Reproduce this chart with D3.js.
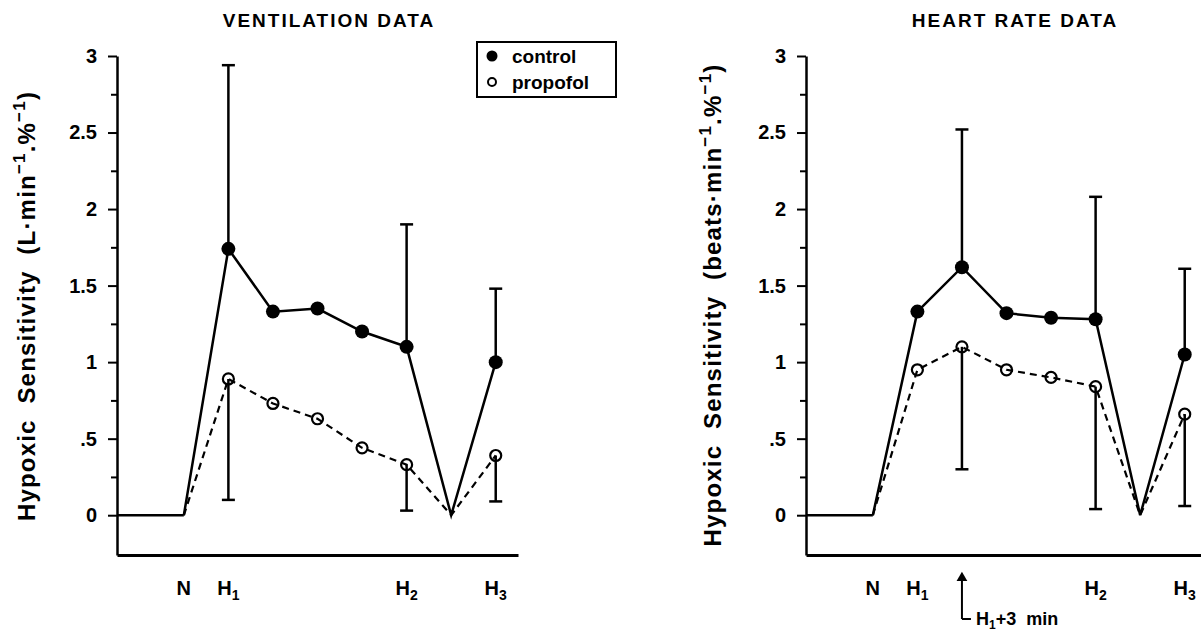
<!DOCTYPE html>
<html>
<head>
<meta charset="utf-8">
<script src="https://cdn.jsdelivr.net/npm/d3@7"></script>
<style>
  body { margin: 0; background: #fff; }
  svg { display: block; font-family: "Liberation Sans", Arial, sans-serif; font-weight: bold; }
</style>
</head>
<body>
<svg id="chart" width="1201" height="635"></svg>
<script>
// x positions: N, H1, H1+3, ..., H2, recovery (dip), H3
const positions = [0, 1, 2, 3, 4, 5, 6, 7];
const markerIdx = [1, 2, 3, 4, 5, 7];

const ventControl = [0, 1.74, 1.33, 1.35, 1.20, 1.10, 0, 1.00];
const ventPropofol = [0, 0.89, 0.73, 0.63, 0.44, 0.33, 0, 0.39];
const ventErrIdx = [1, 5, 7];
const ventControlUpper = [2.94, 1.90, 1.48];
const ventPropofolLower = [0.10, 0.03, 0.09];

const hrControl = [0, 1.33, 1.62, 1.32, 1.29, 1.28, 0, 1.05];
const hrPropofol = [0, 0.95, 1.10, 0.95, 0.90, 0.84, 0, 0.66];
const hrErrIdx = [2, 5, 7];
const hrControlUpper = [2.52, 2.08, 1.61];
const hrPropofolLower = [0.30, 0.04, 0.06];

const majorTicks = [0, 0.5, 1, 1.5, 2, 2.5, 3];
const minorTicks = [0.25, 0.75, 1.25, 1.75, 2.25, 2.75];
const xLabels = [{pos: 0, main: "N", sub: ""}, {pos: 1, main: "H", sub: "1"},
                 {pos: 5, main: "H", sub: "2"}, {pos: 7, main: "H", sub: "3"}];
const seriesNames = ["control", "propofol"];

const svg = d3.select("#chart");

const y = d3.scaleLinear().domain([-0.26, 3]).range([555, 56]);
const fmt = d => d === 0 ? "0" : (d < 1 ? ".5" : String(d));

function panel(opt) {
  const x = d3.scaleLinear().domain([-1.5, 7.5]).range([opt.left, opt.left + 401]);
  const g = svg.append("g");

  // title
  g.append("text")
    .attr("x", opt.titleX).attr("y", 27)
    .attr("text-anchor", "middle")
    .attr("font-size", 19).attr("letter-spacing", 2)
    .text(opt.title);

  // y axis, major and minor ticks
  const ya = g.append("g").attr("transform", `translate(${opt.left},0)`)
    .call(d3.axisLeft(y).tickValues(majorTicks).tickSize(9).tickSizeOuter(0).tickFormat(fmt));
  ya.select(".domain").attr("stroke-width", 2.5);
  ya.selectAll(".tick line").attr("stroke-width", 2);
  ya.selectAll(".tick text").attr("font-size", 20).attr("font-weight", "bold")
    .attr("font-family", "Liberation Sans, Arial, sans-serif").attr("x", -20);
  const ym = g.append("g").attr("transform", `translate(${opt.left},0)`)
    .call(d3.axisLeft(y).tickValues(minorTicks).tickSize(6).tickSizeOuter(0).tickFormat(""));
  ym.select(".domain").remove();
  ym.selectAll(".tick line").attr("stroke-width", 2);

  // x axis, line only
  const xa = g.append("g").attr("transform", `translate(0,${y.range()[0]})`)
    .call(d3.axisBottom(x).tickValues([]).tickSizeOuter(0));
  xa.select(".domain").attr("stroke-width", 3);

  // x labels
  const xl = g.selectAll(".xl").data(xLabels).enter().append("text")
    .attr("x", d => x(d.pos)).attr("y", 595)
    .attr("text-anchor", "middle").attr("font-size", 20);
  xl.append("tspan").text(d => d.main);
  xl.append("tspan").attr("dy", 5).attr("font-size", 14).text(d => d.sub);

  // y axis title
  const yt = g.append("text")
    .attr("transform", `translate(${opt.yTitleX},${opt.yTitleY}) rotate(-90)`)
    .attr("text-anchor", "middle").attr("font-size", 24).attr("letter-spacing", 1.2)
    .style("white-space", "pre");
  yt.append("tspan").text(`Hypoxic  Sensitivity  (${opt.unit}·min`);
  yt.append("tspan").attr("dy", -10).attr("font-size", 17).text("−1");
  yt.append("tspan").attr("dy", 10).text(".%");
  yt.append("tspan").attr("dy", -10).attr("font-size", 17).text("−1");
  yt.append("tspan").attr("dy", 10).text(")");

  // baseline segment before N
  g.append("line")
    .attr("x1", x(-1.5)).attr("x2", x(positions[0]))
    .attr("y1", y(0)).attr("y2", y(0))
    .attr("stroke", "#000").attr("stroke-width", 2.5);

  // error bars: control upward, propofol downward
  const cap = 6.5;
  const errs = opt.errIdx.map((i, k) => ({i, cu: opt.control[i], up: opt.cUpper[k], pm: opt.propofol[i], lo: opt.pLower[k]}));
  const eb = g.selectAll(".eb").data(errs).enter().append("g").attr("stroke", "#000").attr("stroke-width", 2.5);
  eb.append("line").attr("x1", d => x(positions[d.i])).attr("x2", d => x(positions[d.i]))
    .attr("y1", d => y(d.cu)).attr("y2", d => y(d.up));
  eb.append("line").attr("x1", d => x(positions[d.i]) - cap).attr("x2", d => x(positions[d.i]) + cap)
    .attr("y1", d => y(d.up)).attr("y2", d => y(d.up));
  eb.append("line").attr("x1", d => x(positions[d.i])).attr("x2", d => x(positions[d.i]))
    .attr("y1", d => y(d.pm)).attr("y2", d => y(d.lo));
  eb.append("line").attr("x1", d => x(positions[d.i]) - cap).attr("x2", d => x(positions[d.i]) + cap)
    .attr("y1", d => y(d.lo)).attr("y2", d => y(d.lo));

  const line = d3.line().x((d, i) => x(positions[i])).y(d => y(d));

  // control
  g.append("path").datum(opt.control).attr("d", line)
    .attr("fill", "none").attr("stroke", "#000").attr("stroke-width", 2.5);
  g.selectAll(".cdot").data(markerIdx).enter().append("circle")
    .attr("cx", i => x(positions[i])).attr("cy", i => y(opt.control[i]))
    .attr("r", 7).attr("fill", "#000");

  // propofol
  g.selectAll(".pdot").data(markerIdx).enter().append("circle")
    .attr("cx", i => x(positions[i])).attr("cy", i => y(opt.propofol[i]))
    .attr("r", 5.5).attr("fill", "none").attr("stroke", "#000").attr("stroke-width", 2.2);
  g.append("path").datum(opt.propofol).attr("d", line)
    .attr("fill", "none").attr("stroke", "#000").attr("stroke-width", 2.2)
    .attr("stroke-dasharray", "7,5");

  return {g, x};
}

const left = panel({
  left: 117, title: "VENTILATION DATA", titleX: 329, unit: "L",
  yTitleX: 35, yTitleY: 306,
  control: ventControl, propofol: ventPropofol,
  errIdx: ventErrIdx, cUpper: ventControlUpper, pLower: ventPropofolLower
});

const right = panel({
  left: 806, title: "HEART RATE DATA", titleX: 1015, unit: "beats",
  yTitleX: 721, yTitleY: 305,
  control: hrControl, propofol: hrPropofol,
  errIdx: hrErrIdx, cUpper: hrControlUpper, pLower: hrPropofolLower
});

// legend in the ventilation panel
const lg = svg.append("g").attr("transform", "translate(477,42)");
lg.append("rect").attr("width", 139).attr("height", 55)
  .attr("fill", "#fff").attr("stroke", "#000").attr("stroke-width", 2);
const li = lg.selectAll(".li").data(seriesNames).enter().append("g")
  .attr("transform", (d, i) => `translate(15,${14 + i * 26})`);
li.append("circle").attr("r", d => d === "control" ? 5.5 : 4)
  .attr("fill", d => d === "control" ? "#000" : "none")
  .attr("stroke", "#000").attr("stroke-width", d => d === "control" ? 0 : 2);
li.append("text").attr("x", 20).attr("y", 7).attr("font-size", 19).text(d => d);

// H1+3 min marker under the heart-rate panel
const ax = right.x(positions[2]);
const ann = svg.append("g").attr("stroke", "#000").attr("stroke-width", 2);
ann.append("line").attr("x1", ax).attr("x2", ax).attr("y1", 580).attr("y2", 619);
ann.append("line").attr("x1", ax).attr("x2", ax + 9).attr("y1", 619).attr("y2", 619);
svg.append("path")
  .attr("d", d3.symbol(d3.symbolTriangle, 50)())
  .attr("transform", `translate(${ax},578)`)
  .attr("fill", "#000");
const at = svg.append("text").attr("x", ax + 14).attr("y", 625).attr("font-size", 18);
at.append("tspan").text("H");
at.append("tspan").attr("dy", 4).attr("font-size", 12).text("1");
at.append("tspan").attr("dy", -4).style("white-space", "pre").text("+3  min");
</script>
</body>
</html>
